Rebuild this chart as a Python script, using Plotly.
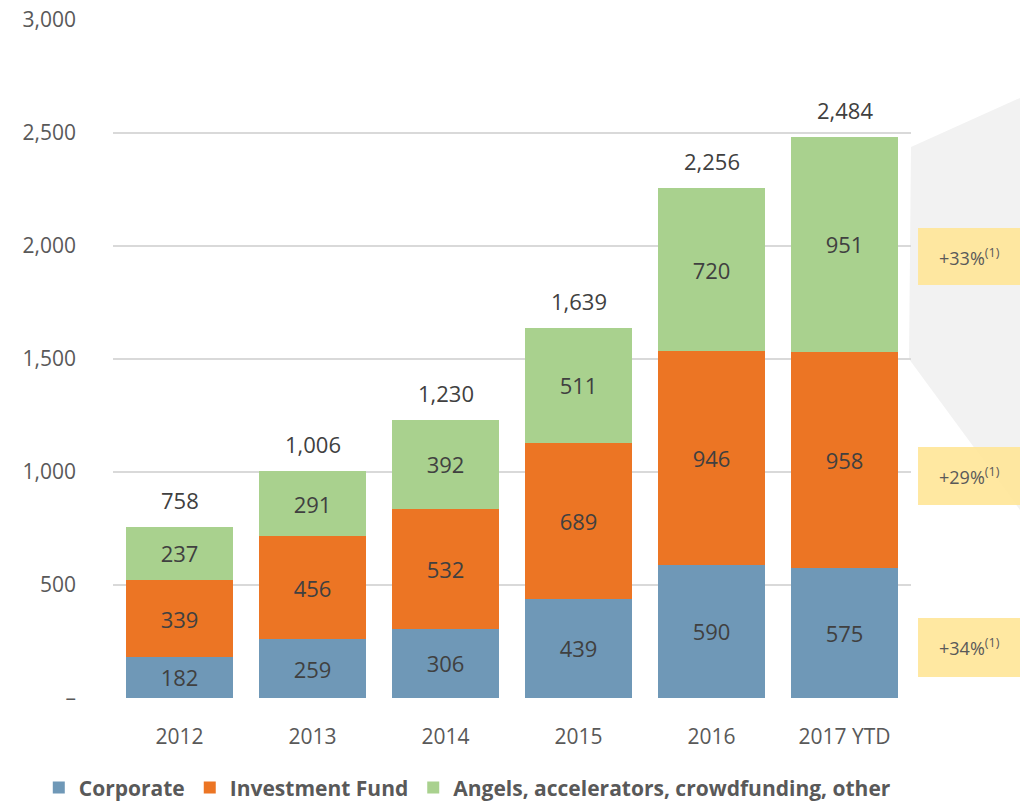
import plotly.graph_objects as go

years = ["2012", "2013", "2014", "2015", "2016", "2017 YTD"]
corporate = [182, 259, 306, 439, 590, 575]
investment_fund = [339, 456, 532, 689, 946, 958]
angels = [237, 291, 392, 511, 720, 951]
totals = [758, 1006, 1230, 1639, 2256, 2484]

series_names = ["Corporate", "Investment Fund", "Angels, accelerators, crowdfunding, other"]
series_colors = ["#6F98B7", "#EC7524", "#A9D18E"]

growth_labels = ["+34%", "+29%", "+33%"]
growth_box_y = [[93, 354], [854, 1111], [1827, 2080]]

ytick_vals = [0, 500, 1000, 1500, 2000, 2500, 3000]
ytick_text = ["–", "500", "1,000", "1,500", "2,000", "2,500", "3,000"]

FONT = "Open Sans"
TXT = "#404040"
AX = "#595959"

fig = go.Figure()
for name, vals, col in zip(series_names, [corporate, investment_fund, angels], series_colors):
    fig.add_trace(go.Bar(
        x=years, y=vals, name=name, marker=dict(color=col, line=dict(width=0)),
        text=[str(v) for v in vals], textposition="inside", insidetextanchor="middle",
        textangle=0, constraintext="none",
        textfont=dict(family=FONT, size=22, color=TXT),
    ))

annotations = []
for i, t in enumerate(totals):
    annotations.append(dict(x=i, y=t, xref="x", yref="y", text=f"{t:,}", showarrow=False,
                            xanchor="center", yanchor="bottom", yshift=10,
                            font=dict(family=FONT, size=22, color=TXT)))

shapes = [dict(type="path", xref="paper", yref="y",
               path="M 1.0,2438 L 1.1366,2655 L 1.1366,832 L 0.9975,1500 Z",
               fillcolor="#F2F2F2", line=dict(width=0), layer="below")]
for lab, (y0, y1) in zip(growth_labels, growth_box_y):
    shapes.append(dict(type="rect", xref="paper", yref="y", x0=1.0088, x1=1.1366, y0=y0, y1=y1,
                       fillcolor="rgba(255,230,153,0.92)", line=dict(width=0), layer="above"))
    annotations.append(dict(x=1.0727, y=(y0 + y1) / 2, xref="paper", yref="y",
                            xanchor="center", yanchor="middle",
                            text=f"{lab}<sup>(1)</sup>", showarrow=False,
                            font=dict(family=FONT, size=18, color=AX)))

fig.update_layout(
    barmode="stack", bargap=0.2,
    width=1020, height=802,
    margin=dict(l=113, r=109, t=20, b=104, pad=0, autoexpand=False),
    paper_bgcolor="white", plot_bgcolor="white",
    font=dict(family=FONT, color=AX),
    xaxis=dict(type="category", range=[-0.5, 5.5], showgrid=False, showline=False,
               ticks="", ticklabelstandoff=24, automargin=False,
               tickfont=dict(family=FONT, size=21, color=AX)),
    yaxis=dict(range=[0, 3000], tickvals=ytick_vals, ticktext=ytick_text,
               showgrid=True, gridcolor="#D9D9D9", gridwidth=2, zeroline=False,
               showline=False, ticks="", ticklabelstandoff=36, automargin=False,
               tickfont=dict(family=FONT, size=21, color=AX)),
    showlegend=True,
    legend=dict(orientation="h", x=-0.093, xanchor="left", y=-0.1327, yanchor="middle",
                font=dict(family=FONT, size=21, color=AX, weight="bold"),
                itemclick=False, traceorder="normal", tracegroupgap=0),
    annotations=annotations, shapes=shapes,
)

fig.write_html("out.html")
